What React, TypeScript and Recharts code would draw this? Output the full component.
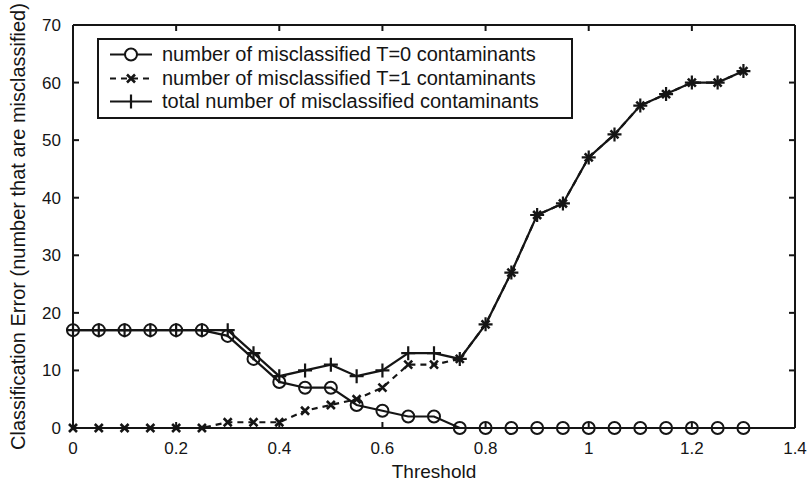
import { LineChart, Line, XAxis, YAxis } from 'recharts'

const thresholds = [
  0, 0.05, 0.1, 0.15, 0.2, 0.25, 0.3, 0.35, 0.4, 0.45, 0.5, 0.55, 0.6, 0.65,
  0.7, 0.75, 0.8, 0.85, 0.9, 0.95, 1, 1.05, 1.1, 1.15, 1.2, 1.25, 1.3,
]
const misT0 = [17, 17, 17, 17, 17, 17, 16, 12, 8, 7, 7, 4, 3, 2, 2, 0, 0, 0, 0, 0, 0, 0, 0, 0, 0, 0, 0]
const misT1 = [0, 0, 0, 0, 0, 0, 1, 1, 1, 3, 4, 5, 7, 11, 11, 12, 18, 27, 37, 39, 47, 51, 56, 58, 60, 60, 62]
const misTotal = [17, 17, 17, 17, 17, 17, 17, 13, 9, 10, 11, 9, 10, 13, 13, 12, 18, 27, 37, 39, 47, 51, 56, 58, 60, 60, 62]

const xTicks = [0, 0.2, 0.4, 0.6, 0.8, 1, 1.2, 1.4]
const yTicks = [0, 10, 20, 30, 40, 50, 60, 70]

const legendLabels = [
  'number of misclassified T=0 contaminants',
  'number of misclassified T=1 contaminants',
  'total number of misclassified contaminants',
]

const INK = '#151515'
const FONT = '"Liberation Sans", Arial, Helvetica, sans-serif'
const TICK_LEN = 6
const LABEL_GAP = 12

// chart box: 810x484, margins below => plot area is 722 x 403
const MARGIN = { top: 25, right: 15, bottom: 26, left: 13 }
const Y_AXIS_W = 60
const X_AXIS_H = 30
const PLOT_W = 810 - MARGIN.left - MARGIN.right - Y_AXIS_W
const PLOT_H = 484 - MARGIN.top - MARGIN.bottom - X_AXIS_H

const data = thresholds.map((t, i) => ({
  t,
  t0: misT0[i],
  t1: misT1[i],
  total: misTotal[i],
}))

// matlab-style ticks pointing into the plot, mirrored on the far side;
// the last tick of each axis also closes the box
const BottomTick = (props: any) => {
  const { x, y, payload } = props
  const axisY = y - LABEL_GAP
  const topY = axisY - PLOT_H
  return (
    <g>
      <line x1={x} y1={axisY} x2={x} y2={axisY - TICK_LEN} stroke={INK} strokeWidth={2} />
      <line x1={x} y1={topY} x2={x} y2={topY + TICK_LEN} stroke={INK} strokeWidth={2} />
      {payload.value === xTicks[xTicks.length - 1] && (
        <line x1={x} y1={axisY} x2={x} y2={topY} stroke={INK} strokeWidth={2} />
      )}
      <text x={x} y={axisY + 26} textAnchor="middle" fontSize={17} fill={INK} fontFamily={FONT}>
        {payload.value}
      </text>
    </g>
  )
}

const LeftTick = (props: any) => {
  const { x, y, payload } = props
  const axisX = x + LABEL_GAP
  const rightX = axisX + PLOT_W
  return (
    <g>
      <line x1={axisX} y1={y} x2={axisX + TICK_LEN} y2={y} stroke={INK} strokeWidth={2} />
      <line x1={rightX} y1={y} x2={rightX - TICK_LEN} y2={y} stroke={INK} strokeWidth={2} />
      {payload.value === yTicks[yTicks.length - 1] && (
        <line x1={axisX} y1={y} x2={rightX} y2={y} stroke={INK} strokeWidth={2} />
      )}
      <text x={x} y={y + 6} textAnchor="end" fontSize={17} fill={INK} fontFamily={FONT}>
        {payload.value}
      </text>
    </g>
  )
}

const CircleDot = (props: any) => {
  const { cx, cy, index } = props
  return <circle key={`c-${index}`} cx={cx} cy={cy} r={6} fill="none" stroke={INK} strokeWidth={2} />
}

const CrossDot = (props: any) => {
  const { cx, cy, index } = props
  const s = 4
  return (
    <path
      key={`x-${index}`}
      d={`M${cx - s},${cy - s}L${cx + s},${cy + s}M${cx - s},${cy + s}L${cx + s},${cy - s}`}
      stroke={INK}
      strokeWidth={2.6}
      fill="none"
    />
  )
}

const PlusDot = (props: any) => {
  const { cx, cy, index } = props
  const s = 7
  return (
    <path
      key={`p-${index}`}
      d={`M${cx - s},${cy}L${cx + s},${cy}M${cx},${cy - s}L${cx},${cy + s}`}
      stroke={INK}
      strokeWidth={2.2}
      fill="none"
    />
  )
}

// little line samples for the legend rows
const Sample = ({ kind }: { kind: number }) => (
  <svg width={60} height={23} style={{ display: 'block' }}>
    {kind === 1 ? (
      <line x1={11} y1={11.5} x2={53} y2={11.5} stroke={INK} strokeWidth={2.2} strokeDasharray="6 5" />
    ) : (
      <line x1={11} y1={11.5} x2={53} y2={11.5} stroke={INK} strokeWidth={2.2} />
    )}
    {kind === 0 && <circle cx={32} cy={11.5} r={6} fill="white" stroke={INK} strokeWidth={2} />}
    {kind === 1 && <path d="M28,7.5L36,15.5M28,15.5L36,7.5" stroke={INK} strokeWidth={2.6} />}
    {kind === 2 && <path d="M32,4.5L32,18.5" stroke={INK} strokeWidth={2.2} />}
  </svg>
)

const LegendBox = () => (
  <div
    style={{
      position: 'absolute',
      left: 97,
      top: 38,
      width: 476,
      border: `2px solid ${INK}`,
      background: 'white',
      padding: '3px 0',
      fontFamily: FONT,
      fontSize: 20,
      color: INK,
      boxSizing: 'border-box',
    }}
  >
    {legendLabels.map((label, i) => (
      <div key={label} style={{ display: 'flex', alignItems: 'center', height: 23.5 }}>
        <Sample kind={i} />
        <span style={{ marginLeft: 3, whiteSpace: 'nowrap', lineHeight: '23px' }}>{label}</span>
      </div>
    ))}
  </div>
)

export default function App() {
  return (
    <div style={{ position: 'absolute', left: 0, top: 0, width: 810, height: 484, background: 'white' }}>
      <LineChart width={810} height={484} data={data} margin={MARGIN} style={{ fontFamily: FONT }}>
        <XAxis
          dataKey="t"
          type="number"
          domain={[0, 1.4]}
          ticks={xTicks}
          height={X_AXIS_H}
          tickSize={0}
          tickMargin={LABEL_GAP}
          tick={BottomTick}
          tickLine={false}
          axisLine={{ stroke: INK, strokeWidth: 2 }}
          label={{ value: 'Threshold', position: 'bottom', offset: 7, fontSize: 19, fill: INK }}
        />
        <YAxis
          type="number"
          domain={[0, 70]}
          ticks={yTicks}
          width={Y_AXIS_W}
          tickSize={0}
          tickMargin={LABEL_GAP}
          tick={LeftTick}
          tickLine={false}
          axisLine={{ stroke: INK, strokeWidth: 2 }}
          label={{
            value: 'Classification Error (number that are misclassified)',
            angle: -90,
            position: 'insideLeft',
            offset: 5,
            fontSize: 20,
            fill: INK,
            style: { textAnchor: 'middle' },
          }}
        />
        <Line
          dataKey="t0"
          type="linear"
          stroke={INK}
          strokeWidth={2.2}
          dot={CircleDot}
          activeDot={false}
          isAnimationActive={false}
        />
        <Line
          dataKey="t1"
          type="linear"
          stroke={INK}
          strokeWidth={2.2}
          strokeDasharray="6 5"
          dot={CrossDot}
          activeDot={false}
          isAnimationActive={false}
        />
        <Line
          dataKey="total"
          type="linear"
          stroke={INK}
          strokeWidth={2.2}
          dot={PlusDot}
          activeDot={false}
          isAnimationActive={false}
        />
      </LineChart>
      <LegendBox />
    </div>
  )
}
